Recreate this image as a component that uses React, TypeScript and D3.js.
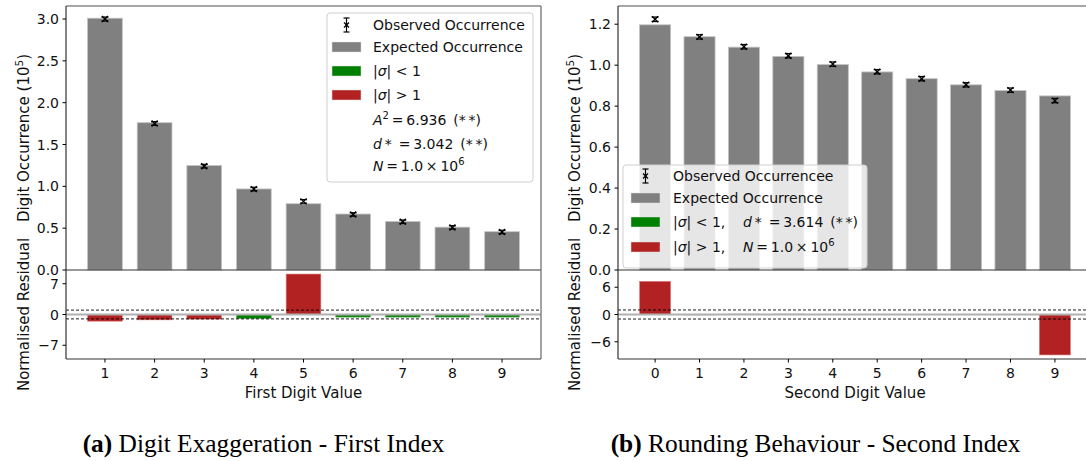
import React from "react";
import * as d3 from "d3";

// ---------- data ----------
const firstDigits = [1, 2, 3, 4, 5, 6, 7, 8, 9];
const firstExpected = [3.01, 1.761, 1.249, 0.969, 0.792, 0.669, 0.58, 0.512, 0.458];
const firstObserved = [3.0, 1.751, 1.241, 0.967, 0.82, 0.664, 0.577, 0.509, 0.454];
const firstResidual = [-1.52, -1.22, -1.05, -0.92, 9.2, -0.6, -0.6, -0.6, -0.6];
const firstTopTicks = [0, 0.5, 1.0, 1.5, 2.0, 2.5, 3.0];
const firstResTicks = [-7, 0, 7];

const secondDigits = [0, 1, 2, 3, 4, 5, 6, 7, 8, 9];
const secondExpected = [1.197, 1.139, 1.088, 1.043, 1.003, 0.967, 0.934, 0.904, 0.876, 0.85];
const secondObserved = [1.224, 1.138, 1.09, 1.046, 1.005, 0.968, 0.934, 0.904, 0.878, 0.827];
const secondResidual = [7.3, -0.1, 0.1, 0.1, 0.05, 0.05, 0.0, 0.0, 0.05, -8.9];
const secondTopTicks = [0, 0.2, 0.4, 0.6, 0.8, 1.0, 1.2];
const secondResTicks = [-6, 0, 6];

const GREY = "#808080";
const GREEN = "#008000";
const RED = "#b22222";
const FONT = "'DejaVu Sans', sans-serif";

const TOP_Y0 = 6;
const TOP_Y1 = 270;
const RES_Y1 = 359;

type PanelProps = {
  x0: number;
  x1: number;
  digits: number[];
  expected: number[];
  observed: number[];
  residual: number[];
  topTicks: number[];
  resTicks: number[];
  xLabel: string;
  labelX: number;
  children?: React.ReactNode;
};

function fmtTop(v: number) {
  return v.toFixed(1);
}
function fmtRes(v: number) {
  return v < 0 ? "\u2212" + Math.abs(v) : String(v);
}

function Panel(p: PanelProps) {
  const dMin = d3.min(p.digits)! - 0.35;
  const dMax = d3.max(p.digits)! + 0.35;
  const pad = (dMax - dMin) * 0.05;
  const x = d3.scaleLinear().domain([dMin - pad, dMax + pad]).range([p.x0, p.x1]);
  const bw = x(0.7) - x(0);

  const errs = p.observed.map((o) => Math.sqrt(o * 1e5) / 1e5);
  const topMax = (d3.max(p.observed.map((o, i) => o + errs[i]))!) * 1.05;
  const y = d3.scaleLinear().domain([0, topMax]).range([TOP_Y1, TOP_Y0]);
  const rMax = d3.max(p.residual.map(Math.abs))! * 1.1;
  const yr = d3.scaleLinear().domain([-rMax, rMax]).range([RES_Y1, TOP_Y1]);

  const spine = "#333";
  const right = Math.min(p.x1, 1086);

  return (
    <g fontFamily={FONT}>
      {/* expected bars */}
      {p.digits.map((d, i) => (
        <rect
          key={"e" + d}
          x={x(d) - bw / 2}
          y={y(p.expected[i])}
          width={bw}
          height={y(0) - y(p.expected[i])}
          fill={GREY}
          stroke="#c4c4c4"
          strokeWidth={0.8}
        />
      ))}
      {/* observed error bars */}
      {p.digits.map((d, i) => {
        const cx = x(d);
        const yt = y(p.observed[i] + errs[i]);
        const yb = y(p.observed[i] - errs[i]);
        const yc = y(p.observed[i]);
        return (
          <g key={"o" + d} stroke="#000" strokeWidth={1.3}>
            <line x1={cx} x2={cx} y1={yt} y2={yb} />
            <line x1={cx - 3.5} x2={cx + 3.5} y1={yt - 1.5} y2={yt - 1.5} />
            <line x1={cx - 3.5} x2={cx + 3.5} y1={yb + 1.5} y2={yb + 1.5} />
            <line x1={cx - 3} x2={cx + 3} y1={yc - 3} y2={yc + 3} />
            <line x1={cx - 3} x2={cx + 3} y1={yc + 3} y2={yc - 3} />
          </g>
        );
      })}
      {/* residual bars */}
      {p.digits.map((d, i) => {
        const r = p.residual[i];
        return (
          <rect
            key={"r" + d}
            x={x(d) - bw / 2}
            y={Math.min(yr(r), yr(0))}
            width={bw}
            height={Math.abs(yr(r) - yr(0))}
            fill={Math.abs(r) > 1 ? RED : GREEN}
            stroke={Math.abs(r) > 1 ? "#e08080" : "#70b070"}
            strokeWidth={0.6}
          />
        );
      })}
      {/* zero and ±1 lines */}
      <line x1={p.x0} x2={right} y1={yr(0)} y2={yr(0)} stroke="#b0b0b0" strokeWidth={2} />
      <line x1={p.x0} x2={right} y1={yr(1)} y2={yr(1)} stroke="#000" strokeWidth={0.9} strokeDasharray="3,2" />
      <line x1={p.x0} x2={right} y1={yr(-1)} y2={yr(-1)} stroke="#000" strokeWidth={0.9} strokeDasharray="3,2" />

      {/* spines */}
      <g fill="none" stroke={spine} strokeWidth={1.2}>
        <line x1={p.x0} x2={right} y1={TOP_Y0} y2={TOP_Y0} stroke="#888" strokeWidth={1.6} />
        <line x1={p.x0} x2={p.x0} y1={TOP_Y0} y2={RES_Y1} />
        <line x1={p.x0} x2={right} y1={TOP_Y1} y2={TOP_Y1} />
        <line x1={p.x0} x2={right} y1={RES_Y1} y2={RES_Y1} />
        {p.x1 <= 1086 && <line x1={p.x1} x2={p.x1} y1={TOP_Y0} y2={RES_Y1} stroke="#666" />}
      </g>

      {/* top y ticks */}
      {p.topTicks.map((t) => (
        <g key={"yt" + t}>
          <line x1={p.x0 - 3.5} x2={p.x0} y1={y(t)} y2={y(t)} stroke="#000" strokeWidth={1} />
          <text x={p.x0 - 7} y={y(t)} dy="0.36em" textAnchor="end" fontSize={14} fill="#111">
            {fmtTop(t)}
          </text>
        </g>
      ))}
      {/* residual y ticks */}
      {p.resTicks.map((t) => (
        <g key={"yr" + t}>
          <line x1={p.x0 - 3.5} x2={p.x0} y1={yr(t)} y2={yr(t)} stroke="#000" strokeWidth={1} />
          <text x={p.x0 - 7} y={yr(t)} dy="0.36em" textAnchor="end" fontSize={14} fill="#111">
            {fmtRes(t)}
          </text>
        </g>
      ))}
      {/* x ticks */}
      {p.digits.map((d) => (
        <g key={"xt" + d}>
          <line x1={x(d)} x2={x(d)} y1={RES_Y1} y2={RES_Y1 + 3.5} stroke="#000" strokeWidth={1} />
          <text x={x(d)} y={RES_Y1 + 19} textAnchor="middle" fontSize={14} fill="#111">
            {d}
          </text>
        </g>
      ))}
      <text x={(p.x0 + p.x1) / 2} y={398} textAnchor="middle" fontSize={15} fill="#111">
        {p.xLabel}
      </text>

      {/* y labels */}
      <text
        transform={`translate(${p.labelX},${(TOP_Y0 + TOP_Y1) / 2}) rotate(-90)`}
        textAnchor="middle"
        fontSize={15}
        fill="#111"
      >
        Digit Occurrence (10
        <tspan dy={-6} fontSize={10.5}>5</tspan>
        <tspan dy={6}>)</tspan>
      </text>
      <text
        transform={`translate(${p.labelX},${(TOP_Y1 + RES_Y1) / 2}) rotate(-90)`}
        textAnchor="middle"
        fontSize={15}
        fill="#111"
      >
        Normalised Residual
      </text>
      {p.children}
    </g>
  );
}

function ErrHandle({ cx, cy }: { cx: number; cy: number }) {
  return (
    <g stroke="#000" strokeWidth={1.2}>
      <line x1={cx} x2={cx} y1={cy - 7} y2={cy + 7} />
      <line x1={cx - 3} x2={cx + 3} y1={cy - 7} y2={cy - 7} />
      <line x1={cx - 3} x2={cx + 3} y1={cy + 7} y2={cy + 7} />
      <line x1={cx - 2.5} x2={cx + 2.5} y1={cy - 2.5} y2={cy + 2.5} />
      <line x1={cx - 2.5} x2={cx + 2.5} y1={cy + 2.5} y2={cy - 2.5} />
    </g>
  );
}

function Patch({ x, cy, color }: { x: number; cy: number; color: string }) {
  return <rect x={x} y={cy - 5} width={29} height={10} fill={color} stroke="#ddd" strokeWidth={0.5} />;
}

function LeftLegend() {
  const bx = 327;
  const hx = 332;
  const tx = 373;
  const rows = [25, 47, 71, 95, 120, 144, 166];
  const fs = 14;
  const b = 5;
  return (
    <g fontFamily={FONT} fontSize={fs} fill="#111">
      <rect x={bx} y={13} width={206} height={169} rx={3} fill="#fff" fillOpacity={0.8} stroke="#cfcfcf" />
      <ErrHandle cx={hx + 14.5} cy={rows[0]} />
      <text x={tx} y={rows[0] + b}>Observed Occurrence</text>
      <Patch x={hx} cy={rows[1]} color={GREY} />
      <text x={tx} y={rows[1] + b}>Expected Occurrence</text>
      <Patch x={hx} cy={rows[2]} color={GREEN} />
      <text x={tx} y={rows[2] + b}>
        |<tspan fontStyle="italic">σ</tspan>| &lt; 1
      </text>
      <Patch x={hx} cy={rows[3]} color={RED} />
      <text x={tx} y={rows[3] + b}>
        |<tspan fontStyle="italic">σ</tspan>| &gt; 1
      </text>
      <text x={tx} y={rows[4] + b}>
        <tspan fontStyle="italic">A</tspan>
        <tspan dy={-6} fontSize={10}>2</tspan>
        <tspan dy={6}>{"\u2009=\u20096.936\u2002(*\u2009*)"}</tspan>
      </text>
      <text x={tx} y={rows[5] + b}>
        <tspan fontStyle="italic">d</tspan>
        {"\u2009*\u2002=\u20093.042\u2002(*\u2009*)"}
      </text>
      <text x={tx} y={rows[6] + b}>
        <tspan fontStyle="italic">N</tspan>
        {"\u2009=\u20091.0\u2009×\u200910"}
        <tspan dy={-6} fontSize={10}>6</tspan>
      </text>
    </g>
  );
}

function RightLegend() {
  const bx = 623;
  const hx = 631;
  const tx = 673;
  const tx2 = 743;
  const rows = [176, 198, 222, 247];
  const fs = 14;
  const b = 5;
  return (
    <g fontFamily={FONT} fontSize={fs} fill="#111">
      <rect x={bx} y={165} width={244} height={103} rx={3} fill="#fff" fillOpacity={0.8} stroke="#cfcfcf" />
      <ErrHandle cx={hx + 14.5} cy={rows[0]} />
      <text x={tx} y={rows[0] + b}>Observed Occurrencee</text>
      <Patch x={hx} cy={rows[1]} color={GREY} />
      <text x={tx} y={rows[1] + b}>Expected Occurrence</text>
      <Patch x={hx} cy={rows[2]} color={GREEN} />
      <text x={tx} y={rows[2] + b}>
        |<tspan fontStyle="italic">σ</tspan>| &lt; 1,
      </text>
      <text x={tx2} y={rows[2] + b}>
        <tspan fontStyle="italic">d</tspan>
        {"\u2009*\u2002=\u20093.614\u2002(*\u2009*)"}
      </text>
      <Patch x={hx} cy={rows[3]} color={RED} />
      <text x={tx} y={rows[3] + b}>
        |<tspan fontStyle="italic">σ</tspan>| &gt; 1,
      </text>
      <text x={tx2} y={rows[3] + b}>
        <tspan fontStyle="italic">N</tspan>
        {"\u2009=\u20091.0\u2009×\u200910"}
        <tspan dy={-6} fontSize={10}>6</tspan>
      </text>
    </g>
  );
}

export default function App() {
  return (
    <svg
      width={1086}
      height={461}
      viewBox="0 0 1086 461"
      style={{ position: "absolute", left: 0, top: 0, background: "#fff" }}
    >
      <rect width={1086} height={461} fill="#fff" />
      <Panel
        x0={66}
        x1={541}
        digits={firstDigits}
        expected={firstExpected}
        observed={firstObserved}
        residual={firstResidual}
        topTicks={firstTopTicks}
        resTicks={firstResTicks}
        xLabel="First Digit Value"
        labelX={29}
      >
        <LeftLegend />
      </Panel>
      <Panel
        x0={618}
        x1={1092}
        digits={secondDigits}
        expected={secondExpected}
        observed={secondObserved}
        residual={secondResidual}
        topTicks={secondTopTicks}
        resTicks={secondResTicks}
        xLabel="Second Digit Value"
        labelX={580}
      >
        <RightLegend />
      </Panel>
      <g fontFamily="'Liberation Serif', 'Times New Roman', serif" fontSize={25.4} fill="#000">
        <text x={263.5} y={452} textAnchor="middle">
          <tspan fontWeight="bold">(a)</tspan> Digit Exaggeration - First Index
        </text>
        <text x={815.5} y={452} textAnchor="middle">
          <tspan fontWeight="bold">(b)</tspan> Rounding Behaviour - Second Index
        </text>
      </g>
    </svg>
  );
}
